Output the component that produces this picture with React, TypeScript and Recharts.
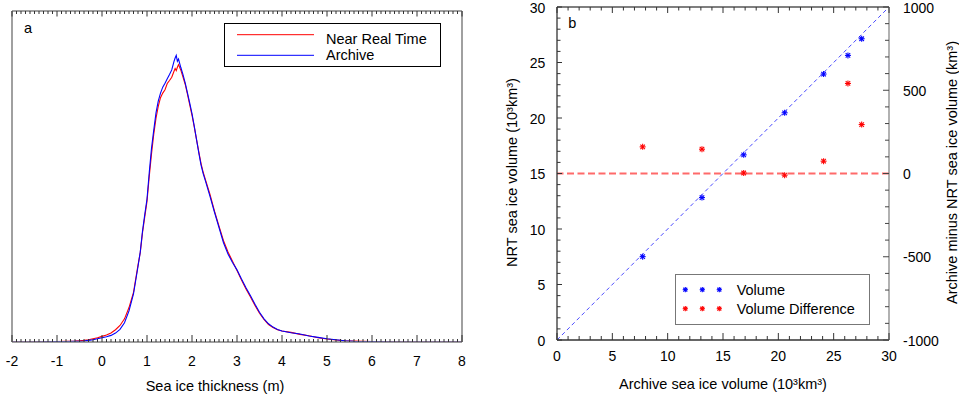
import React from 'react';
import {
  LineChart,
  Line,
  XAxis,
  YAxis,
  ScatterChart,
  Scatter,
  ReferenceLine,
  Legend,
  Label,
} from 'recharts';

const FONT = "'Liberation Sans', Arial, Helvetica, sans-serif";

// ---------- Panel a: thickness distribution ----------
const thickness = [
  -2.0, -1.5, -1.0, -0.8, -0.6, -0.5, -0.4, -0.3, -0.2, -0.1,
  0.0, 0.1, 0.2, 0.3, 0.4, 0.5, 0.6, 0.7, 0.8, 0.85,
  0.9, 0.95, 1.0, 1.05, 1.1, 1.15, 1.2, 1.25, 1.3, 1.35,
  1.4, 1.45, 1.5, 1.55, 1.6, 1.625, 1.65, 1.675, 1.7, 1.75,
  1.8, 1.85, 1.9, 1.95, 2.0, 2.05, 2.1, 2.15, 2.2, 2.25,
  2.3, 2.4, 2.5, 2.6, 2.7, 2.8, 2.9, 3.0, 3.1, 3.2,
  3.3, 3.4, 3.5, 3.6, 3.7, 3.8, 3.9, 4.0, 4.2, 4.4,
  4.6, 4.8, 5.0, 5.2, 5.4, 5.6, 5.8, 6.0, 6.5, 7.0,
  7.5, 8.0,
];
const archive = [
  0, 0, 0.001, 0.001, 0.002, 0.002, 0.003, 0.005, 0.007, 0.01,
  0.013, 0.016, 0.02, 0.027, 0.038, 0.058, 0.094, 0.145, 0.228, 0.272,
  0.335, 0.385, 0.432, 0.512, 0.585, 0.64, 0.692, 0.728, 0.752, 0.77,
  0.782, 0.795, 0.808, 0.822, 0.848, 0.858, 0.866, 0.848, 0.855, 0.83,
  0.808, 0.782, 0.752, 0.722, 0.69, 0.652, 0.612, 0.572, 0.535, 0.508,
  0.486, 0.44, 0.392, 0.346, 0.3, 0.266, 0.24, 0.218, 0.19, 0.164,
  0.14, 0.114, 0.09, 0.07, 0.055, 0.045, 0.038, 0.033, 0.028, 0.024,
  0.018, 0.014, 0.01, 0.007, 0.004, 0.002, 0.001, 0.001, 0, 0,
  0, 0,
];
const nrt = [
  0, 0, 0.001, 0.002, 0.003, 0.004, 0.005, 0.007, 0.01, 0.013,
  0.017, 0.021, 0.027, 0.037, 0.05, 0.07, 0.104, 0.15, 0.232, 0.27,
  0.33, 0.378, 0.425, 0.5, 0.568, 0.628, 0.676, 0.712, 0.738, 0.752,
  0.762, 0.781, 0.79, 0.8, 0.818, 0.826, 0.82, 0.83, 0.838, 0.822,
  0.8, 0.778, 0.748, 0.716, 0.685, 0.65, 0.612, 0.575, 0.54, 0.512,
  0.49, 0.446, 0.395, 0.35, 0.306, 0.272, 0.244, 0.216, 0.187, 0.16,
  0.136, 0.11, 0.087, 0.068, 0.053, 0.044, 0.037, 0.033, 0.029, 0.023,
  0.019, 0.013, 0.009, 0.006, 0.004, 0.003, 0.002, 0.001, 0, 0,
  0, 0,
];
const thicknessMajorTicks = [-2, -1, 0, 1, 2, 3, 4, 5, 6, 7, 8];
const legendOrderA = ['Near Real Time', 'Archive'];

// ---------- Panel b: volumes ----------
const archiveVolume = [7.74, 13.1, 16.87, 20.57, 24.09, 26.29, 27.53];
const nrtVolume = [7.51, 12.83, 16.68, 20.47, 23.96, 25.64, 27.14];
const volumeDifference = [160, 146, 3, -10, 74, 541, 294];
const volumeMajorTicks = [0, 5, 10, 15, 20, 25, 30];
const diffMajorTicks = [-1000, -500, 0, 500, 1000];
const legendOrderB = ['Volume', 'Volume Difference'];

const minorBetween = (majors: number[], per: number) => {
  const out: number[] = [];
  for (let i = 0; i < majors.length - 1; i++) {
    const a = majors[i];
    const b = majors[i + 1];
    for (let k = 0; k < per; k++) out.push(Math.round((a + ((b - a) * k) / per) * 1000) / 1000);
  }
  out.push(majors[majors.length - 1]);
  return out;
};

const thicknessTicks = minorBetween(thicknessMajorTicks, 10);
const volumeTicks = minorBetween(volumeMajorTicks, 5);
const diffTicks = minorBetween(diffMajorTicks, 5);

const rowsA = thickness.map((t, i) => ({ t, archive: archive[i], nrt: nrt[i] }));
const volumeRows = archiveVolume.map((x, i) => ({ x, y: nrtVolume[i] }));
const diffRows = archiveVolume.map((x, i) => ({ x, y: volumeDifference[i] }));

type Orient = 'bottom' | 'top' | 'left' | 'right';

function makeTick(
  orient: Orient,
  majors: number[],
  majorLen: number,
  minorLen: number,
  color: string,
  label: null | { dx: number; dy: number }
) {
  return (p: any) => {
    const x = p.x as number;
    const y = p.y as number;
    const v = p.payload.value as number;
    const isMajor = majors.some((m) => Math.abs(m - v) < 1e-6);
    const len = isMajor ? majorLen : minorLen;
    let line: any;
    let anchor: 'middle' | 'end' | 'start' = 'middle';
    if (orient === 'bottom') line = <line x1={x} x2={x} y1={y} y2={y - len} stroke={color} strokeWidth={1} />;
    else if (orient === 'top') line = <line x1={x} x2={x} y1={y} y2={y + len} stroke={color} strokeWidth={1} />;
    else if (orient === 'left') {
      line = <line x1={x} x2={x + len} y1={y} y2={y} stroke={color} strokeWidth={1} />;
      anchor = 'end';
    } else {
      line = <line x1={x} x2={x - len} y1={y} y2={y} stroke={color} strokeWidth={1} />;
      anchor = 'start';
    }
    return (
      <g>
        {line}
        {label && isMajor ? (
          <text x={x + label.dx} y={y + label.dy} textAnchor={anchor} fontSize={14} fontFamily={FONT} fill="#000">
            {v}
          </text>
        ) : null}
      </g>
    );
  };
}

const Asterisk = ({ cx, cy, color, r = 3 }: { cx: number; cy: number; color: string; r?: number }) => {
  const d = r * 0.75;
  return (
    <g stroke={color} strokeWidth={1.1}>
      <line x1={cx - r} x2={cx + r} y1={cy} y2={cy} />
      <line x1={cx} x2={cx} y1={cy - r} y2={cy + r} />
      <line x1={cx - d} x2={cx + d} y1={cy - d} y2={cy + d} />
      <line x1={cx - d} x2={cx + d} y1={cy + d} y2={cy - d} />
    </g>
  );
};

const sortByOrder = (items: any[], order: string[]) =>
  [...items].sort((a, b) => order.indexOf(a.value) - order.indexOf(b.value));

const LegendA = ({ payload }: any) => {
  const items = sortByOrder((payload || []) as any[], legendOrderA);
  return (
    <div style={{ position: 'relative', width: 217, height: 44, boxSizing: 'border-box', border: '1px solid #000', background: '#fff' }}>
      <svg width={217} height={44} style={{ position: 'absolute', left: -1, top: -1 }}>
        {items.map((it, i) => (
          <g key={i}>
            <line x1={13} x2={90} y1={i === 0 ? 11.7 : 32.3} y2={i === 0 ? 11.7 : 32.3} stroke={it.color} strokeWidth={1} />
            <text x={102} y={i === 0 ? 21 : 36.7} fontSize={14.5} fontFamily={FONT} fill="#000">
              {it.value}
            </text>
          </g>
        ))}
      </svg>
    </div>
  );
};

const LegendB = ({ payload }: any) => {
  const items = sortByOrder((payload || []) as any[], legendOrderB);
  return (
    <div style={{ position: 'relative', width: 195, height: 51, boxSizing: 'border-box', border: '1.5px solid #777', background: '#fff' }}>
      <svg width={195} height={51} style={{ position: 'absolute', left: -1.5, top: -1.5 }}>
        {items.map((it, i) => {
          const cy = i === 0 ? 15.7 : 34.7;
          return (
            <g key={i}>
              {[10.3, 27.3, 44.3].map((cx) => (
                <Asterisk key={cx} cx={cx} cy={cy} color={it.color} r={2.6} />
              ))}
              <text x={61.7} y={i === 0 ? 21.4 : 40} fontSize={14.5} fontFamily={FONT} fill="#000">
                {it.value}
              </text>
            </g>
          );
        })}
      </svg>
    </div>
  );
};

const titleStyle = { fontSize: 14.5, fontFamily: FONT, fill: '#000' } as const;

const FRAME_A = '#808080';

export default function App() {
  return (
    <div style={{ position: 'absolute', left: 0, top: 0, width: 959, height: 397, background: '#fff', overflow: 'hidden' }}>
      <div style={{ position: 'absolute', left: 0, top: 0 }}>
        <LineChart width={480} height={397} data={rowsA} margin={{ top: 0, right: 0, bottom: 3, left: 0 }}>
          <XAxis
            dataKey="t"
            type="number"
            domain={[-2, 8]}
            ticks={thicknessTicks}
            interval={0}
            height={52}
            tickSize={0}
            tickMargin={0}
            tickLine={false}
            axisLine={{ stroke: FRAME_A, strokeWidth: 1.5 }}
            tick={makeTick('bottom', thicknessMajorTicks, 7, 3, '#333', { dx: 0, dy: 24.4 })}
            allowDataOverflow
          >
            <Label
              content={(props: any) => {
                const vb = props.viewBox || { x: 12, y: 342, width: 450, height: 52 };
                return (
                  <text x={vb.x + vb.width / 2 - 22} y={vb.y + 49} textAnchor="middle" {...titleStyle}>
                    Sea ice thickness (m)
                  </text>
                );
              }}
            />
          </XAxis>
          <XAxis
            xAxisId="top"
            orientation="top"
            dataKey="t"
            type="number"
            domain={[-2, 8]}
            ticks={thicknessTicks}
            interval={0}
            height={11}
            tickSize={0}
            tickMargin={0}
            tickLine={false}
            axisLine={{ stroke: FRAME_A, strokeWidth: 1.5 }}
            tick={makeTick('top', thicknessMajorTicks, 5.5, 3, '#333', null)}
            allowDataOverflow
          />
          <YAxis yAxisId="l" type="number" domain={[0, 1]} width={12} tick={false} tickLine={false} axisLine={{ stroke: FRAME_A, strokeWidth: 1.5 }} allowDataOverflow />
          <YAxis yAxisId="r" orientation="right" type="number" domain={[0, 1]} width={18} tick={false} tickLine={false} axisLine={{ stroke: FRAME_A, strokeWidth: 1.5 }} allowDataOverflow />
          <Line yAxisId="l" dataKey="nrt" name="Near Real Time" stroke="#ff0000" strokeWidth={1.1} dot={false} isAnimationActive={false} type="linear" />
          <Line yAxisId="l" dataKey="archive" name="Archive" stroke="#0000ff" strokeWidth={1.1} dot={false} isAnimationActive={false} type="linear" />
          <Legend
            layout="horizontal"
            verticalAlign="middle"
            align="center"
            wrapperStyle={{ left: 224, top: 23, width: 217, height: 44 }}
            content={(props: any) => <LegendA payload={props.payload} />}
          />
        </LineChart>
      </div>

      <div style={{ position: 'absolute', left: 480, top: 0 }}>
        <ScatterChart width={479} height={397} margin={{ top: 0, right: 0, bottom: 7, left: 0 }}>
          <XAxis
            dataKey="x"
            type="number"
            domain={[0, 30]}
            ticks={volumeTicks}
            interval={0}
            height={50}
            tickSize={0}
            tickMargin={0}
            tickLine={false}
            axisLine={{ stroke: '#333', strokeWidth: 1.3 }}
            tick={makeTick('bottom', volumeMajorTicks, 7, 4, '#333', { dx: 0, dy: 21.4 })}
            allowDataOverflow
          >
            <Label
              content={(props: any) => {
                const vb = props.viewBox || { x: 77, y: 340, width: 332, height: 50 };
                return (
                  <text x={vb.x + vb.width / 2} y={vb.y + 48.5} textAnchor="middle" {...titleStyle}>
                    Archive sea ice volume (10³km³)
                  </text>
                );
              }}
            />
          </XAxis>
          <XAxis
            xAxisId="top"
            orientation="top"
            dataKey="x"
            type="number"
            domain={[0, 30]}
            ticks={volumeTicks}
            interval={0}
            height={7}
            tickSize={0}
            tickMargin={0}
            tickLine={false}
            axisLine={{ stroke: '#555', strokeWidth: 1.3 }}
            tick={makeTick('top', volumeMajorTicks, 6, 3.5, '#333', null)}
            allowDataOverflow
          />
          <YAxis
            yAxisId="left"
            dataKey="y"
            type="number"
            domain={[0, 30]}
            ticks={volumeTicks}
            interval={0}
            width={77}
            tickSize={0}
            tickMargin={0}
            tickLine={false}
            axisLine={{ stroke: '#333', strokeWidth: 1.3 }}
            tick={makeTick('left', volumeMajorTicks, 5, 3.5, '#333', { dx: -11.6, dy: 5.5 })}
            allowDataOverflow
          >
            <Label
              content={(props: any) => {
                const vb = props.viewBox || { x: 0, y: 7, width: 77, height: 333 };
                const cx = vb.x + 32;
                const cy = vb.y + vb.height / 2 - 1;
                return (
                  <text x={cx} y={cy} textAnchor="middle" dominantBaseline="central" transform={`rotate(-90 ${cx} ${cy})`} {...titleStyle}>
                    NRT sea ice volume (10³km³)
                  </text>
                );
              }}
            />
          </YAxis>
          <YAxis
            yAxisId="right"
            orientation="right"
            dataKey="y"
            type="number"
            domain={[-1000, 1000]}
            ticks={diffTicks}
            interval={0}
            width={70}
            tickSize={0}
            tickMargin={0}
            tickLine={false}
            axisLine={{ stroke: '#888', strokeWidth: 1.3 }}
            tick={makeTick('right', diffMajorTicks, 6, 4, '#444', { dx: 14, dy: 5.5 })}
            allowDataOverflow
          >
            <Label
              content={(props: any) => {
                const vb = props.viewBox || { x: 409, y: 7, width: 70, height: 333 };
                const cx = vb.x + 62.5;
                const cy = vb.y + vb.height / 2 - 1;
                return (
                  <text x={cx} y={cy} textAnchor="middle" dominantBaseline="central" transform={`rotate(-90 ${cx} ${cy})`} {...titleStyle}>
                    Archive minus NRT sea ice volume (km³)
                  </text>
                );
              }}
            />
          </YAxis>
          <ReferenceLine
            yAxisId="left"
            segment={[
              { x: 0, y: 0 },
              { x: 30, y: 30 },
            ]}
            stroke="#4a4aff"
            strokeWidth={1}
            strokeDasharray="4 3"
          />
          <ReferenceLine yAxisId="right" y={0} stroke="#ff5a5a" strokeOpacity={0.9} strokeWidth={1.8} strokeDasharray="7 3.5" />
          <Scatter
            yAxisId="left"
            name="Volume"
            data={volumeRows}
            fill="#0000ff"
            isAnimationActive={false}
            shape={(p: any) => <Asterisk cx={p.cx} cy={p.cy} color="#0000ff" />}
          />
          <Scatter
            yAxisId="right"
            name="Volume Difference"
            data={diffRows}
            fill="#ff0000"
            isAnimationActive={false}
            shape={(p: any) => <Asterisk cx={p.cx} cy={p.cy} color="#ff0000" />}
          />
          <Legend
            layout="horizontal"
            verticalAlign="middle"
            align="center"
            wrapperStyle={{ left: 195, top: 274.3, width: 195, height: 51 }}
            content={(props: any) => <LegendB payload={props.payload} />}
          />
        </ScatterChart>
      </div>

      <svg width={959} height={397} style={{ position: 'absolute', left: 0, top: 0, pointerEvents: 'none' }}>
        <text x={24} y={33.3} fontSize={14.5} fontFamily={FONT} fill="#000">a</text>
        <text x={568.3} y={28.3} fontSize={14.5} fontFamily={FONT} fill="#000">b</text>
      </svg>
    </div>
  );
}
